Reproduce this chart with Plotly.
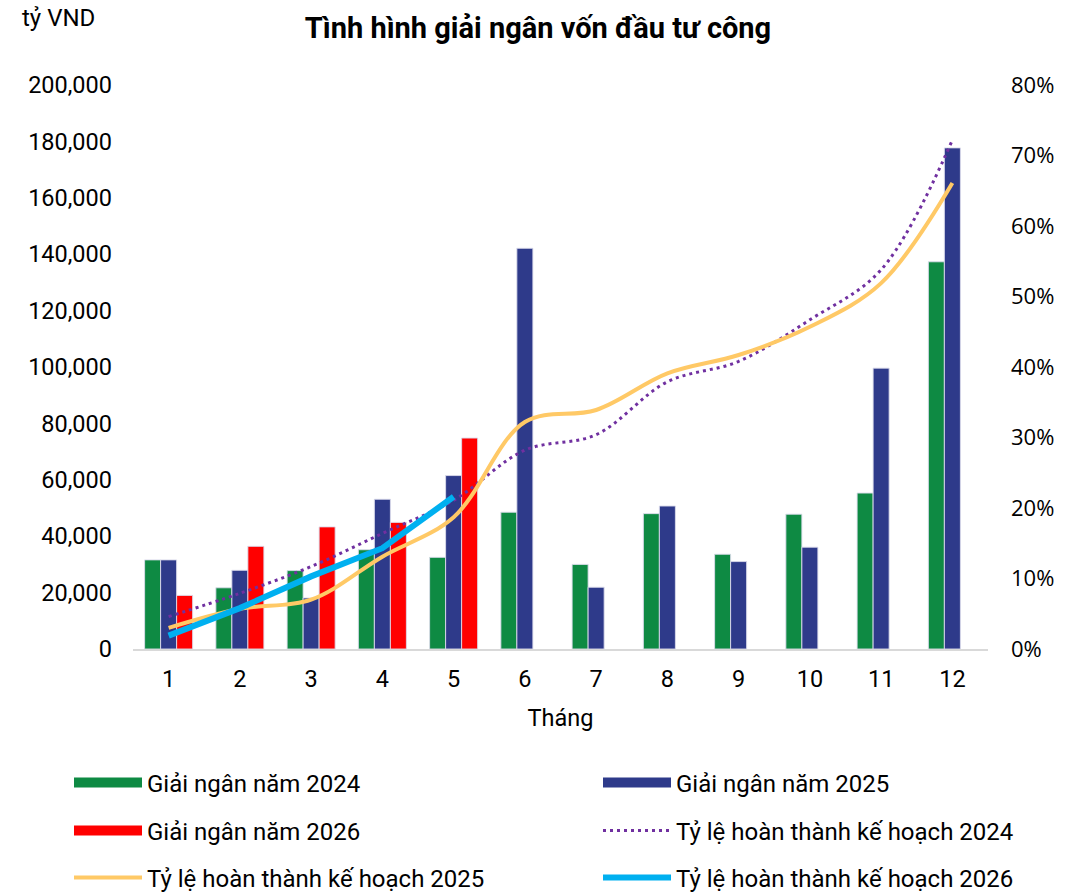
import plotly.graph_objects as go

months = list(range(1, 13))
month_labels = [str(m) for m in months]

disb_2024 = [31600, 21700, 27800, 35200, 32500, 48500, 30000, 48000, 33600, 47800, 55300, 137300]
disb_2025 = [31600, 27900, 18100, 53100, 61500, 142100, 21900, 50700, 31000, 36100, 99600, 177700]
disb_2026 = [19000, 36400, 43300, 44900, 74800]

rate_2024 = [0.046, 0.079, 0.117, 0.164, 0.211, 0.282, 0.304, 0.379, 0.408, 0.467, 0.538, 0.722]
rate_2025 = [0.030, 0.057, 0.070, 0.131, 0.187, 0.322, 0.339, 0.391, 0.417, 0.457, 0.519, 0.661]
rate_2026 = [0.019, 0.058, 0.103, 0.143, 0.216]

left_ticks = list(range(0, 200001, 20000))
right_ticks = [i / 10 for i in range(0, 9)]

FONT = "Roboto"
FS = 23.5
GREEN, NAVY, RED = "#0E8A43", "#2E3A8A", "#FF0000"
bar_line = dict(color="rgba(220,220,235,0.9)", width=1)

fig = go.Figure()
fig.add_trace(go.Bar(x=months, y=disb_2024, name="Giải ngân năm 2024", showlegend=False,
                     marker=dict(color=GREEN, line=bar_line)))
fig.add_trace(go.Bar(x=months, y=disb_2025, name="Giải ngân năm 2025", showlegend=False,
                     marker=dict(color=NAVY, line=bar_line)))
fig.add_trace(go.Bar(x=months[:len(disb_2026)], y=disb_2026, name="Giải ngân năm 2026",
                     showlegend=False, marker=dict(color=RED, line=bar_line)))

# legend proxies for bar series (wide rectangle keys)
for name, col, lg in [("Giải ngân năm 2024", GREEN, "legend"),
                      ("Giải ngân năm 2025", NAVY, "legend2"),
                      ("Giải ngân năm 2026", RED, "legend3")]:
    fig.add_trace(go.Scatter(x=[None], y=[None], name=name, mode="lines",
                             line=dict(color=col, width=10), legend=lg, hoverinfo="skip"))

fig.add_trace(go.Scatter(x=months, y=rate_2024, name="Tỷ lệ hoàn thành kế hoạch 2024",
                         mode="lines", yaxis="y2",
                         line=dict(color="#7030A0", width=3, dash="3px,4px", shape="spline"),
                         legend="legend4"))
fig.add_trace(go.Scatter(x=months, y=rate_2025, name="Tỷ lệ hoàn thành kế hoạch 2025",
                         mode="lines", yaxis="y2",
                         line=dict(color="#FFC966", width=4, shape="spline"),
                         legend="legend5"))
fig.add_trace(go.Scatter(x=months[:len(rate_2026)], y=rate_2026, name="Tỷ lệ hoàn thành kế hoạch 2026",
                         mode="lines", yaxis="y2",
                         line=dict(color="#00B0F0", width=6),
                         legend="legend6"))

leg_font = dict(family=FONT, size=24, color="#000")
col1_x = 69 / 1076
col2_x = 598 / 1076
rows_y = [1 - 783 / 892, 1 - 831 / 892, 1 - 878 / 892]

def leg(x, y):
    return dict(x=x, y=y, xref="container", yref="container", xanchor="left", yanchor="middle",
                font=leg_font, bgcolor="rgba(0,0,0,0)", orientation="h", itemwidth=68)

fig.update_layout(
    width=1076, height=892,
    margin=dict(l=133, r=88, t=85, b=243, autoexpand=False),
    plot_bgcolor="white", paper_bgcolor="white",
    barmode="group", bargap=0.326, bargroupgap=0,
    font=dict(family=FONT, size=FS, color="#000"),
    title=dict(text="<b>Tình hình giải ngân vốn đầu tư công</b>", x=0.5, xanchor="center",
               xref="container", yref="container",
               y=1 - 28 / 892, yanchor="middle", font=dict(family=FONT, size=29, color="#000")),
    xaxis=dict(range=[0.5, 12.5], tickmode="array", tickvals=months, ticktext=month_labels,
               showgrid=False, zeroline=False, showline=True, linecolor="#D9D9D9", linewidth=2,
               ticks="", tickfont=dict(family=FONT, size=FS), ticklabelstandoff=8,
               title=dict(text="Tháng", font=dict(family=FONT, size=FS), standoff=17)),
    yaxis=dict(range=[0, 200000], tickmode="array", tickvals=left_ticks,
               ticktext=[f"{v:,}" for v in left_ticks], showgrid=False, zeroline=False,
               showline=False, ticks="", ticklabelstandoff=20,
               tickfont=dict(family=FONT, size=FS)),
    yaxis2=dict(range=[0, 0.8], overlaying="y", side="right", tickmode="array",
                tickvals=right_ticks, ticktext=[f"{int(round(v*100))}%" for v in right_ticks],
                showgrid=False, zeroline=False, showline=False, ticks="", ticklabelstandoff=22,
                tickfont=dict(family="Open Sans", size=22)),
    showlegend=True,
    legend=leg(col1_x, rows_y[0]),
    legend2=leg(col2_x, rows_y[0]),
    legend3=leg(col1_x, rows_y[1]),
    legend4=leg(col2_x, rows_y[1]),
    legend5=leg(col1_x, rows_y[2]),
    legend6=leg(col2_x, rows_y[2]),
    annotations=[dict(text="tỷ VND", xref="paper", yref="paper", x=(20 - 133) / 855,
                      y=(649 - 18) / 564, xanchor="left", yanchor="middle", showarrow=False,
                      font=dict(family=FONT, size=24, color="#000"))],
)

fig.write_html("out.html", post_script="document.body.style.margin='0';",
               config={"displayModeBar": False})
